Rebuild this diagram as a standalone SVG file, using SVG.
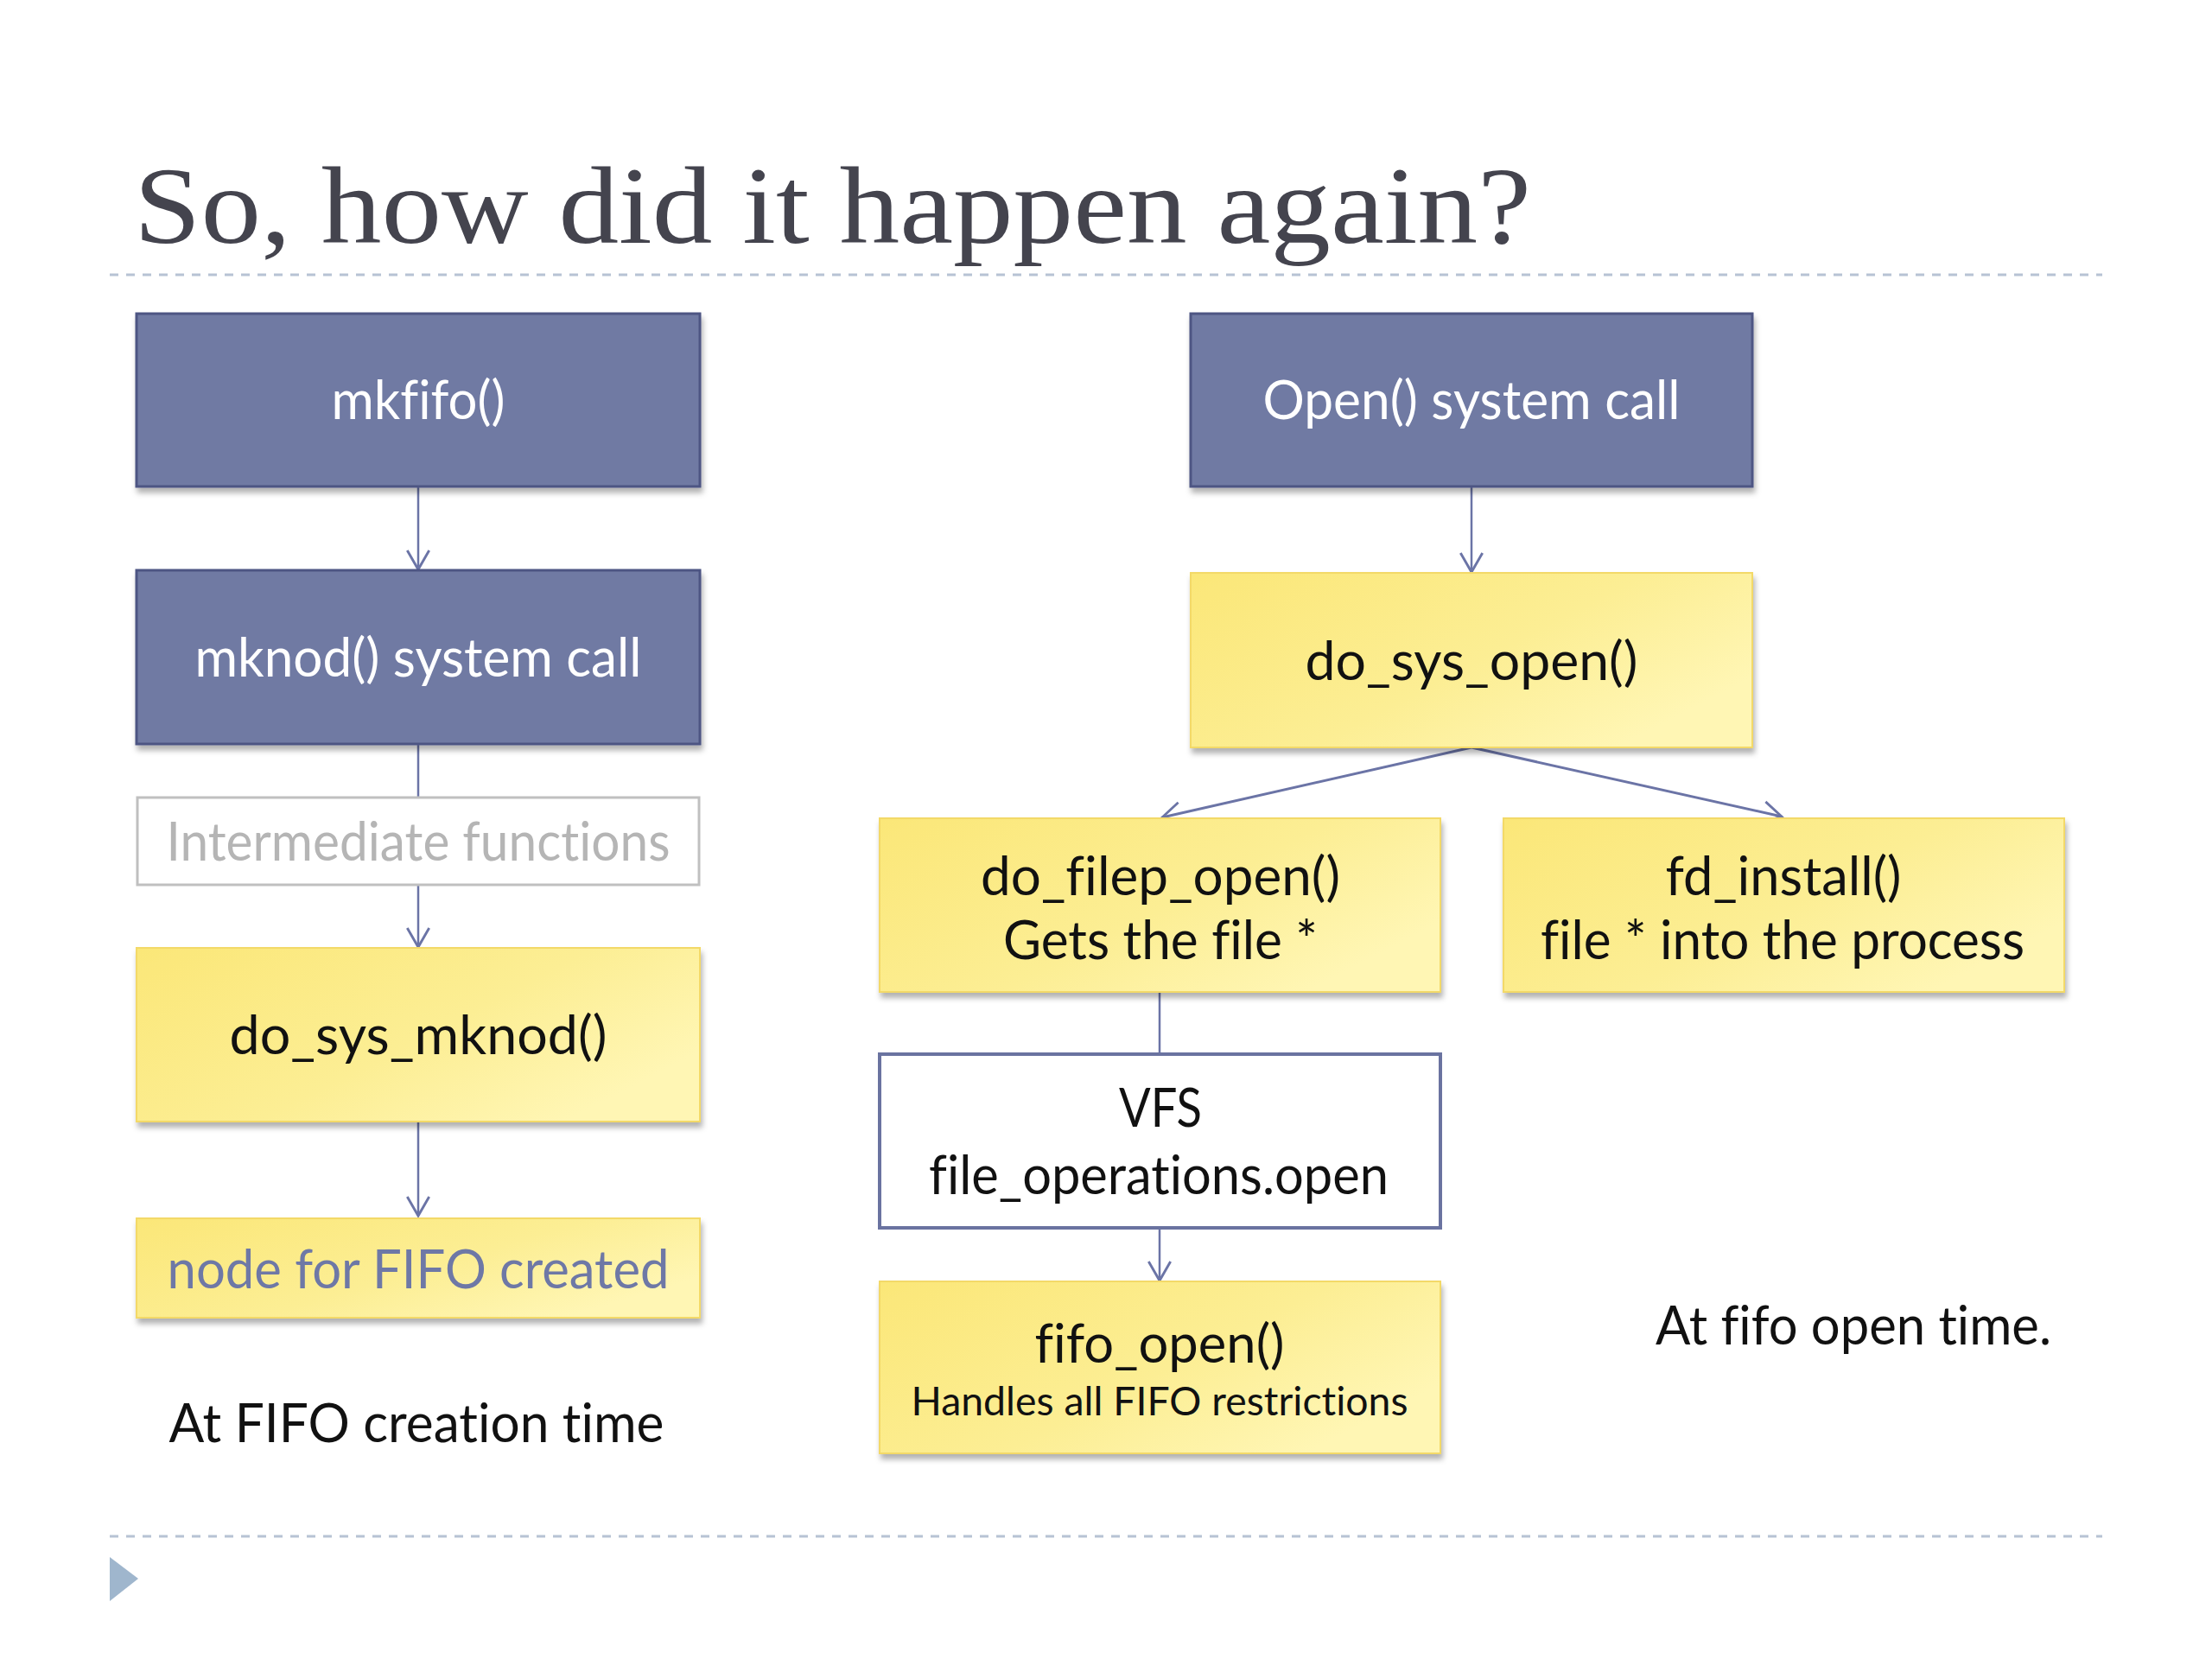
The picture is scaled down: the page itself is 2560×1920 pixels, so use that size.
<svg xmlns="http://www.w3.org/2000/svg" width="2560" height="1920" viewBox="0 0 2560 1920">
<defs>
<linearGradient id="yel" x1="0" y1="0" x2="1" y2="0.6">
<stop offset="0" stop-color="#fbe778"/>
<stop offset="0.6" stop-color="#fcee94"/>
<stop offset="1" stop-color="#fff6b4"/>
</linearGradient>
<filter id="sh" x="-5%" y="-10%" width="112%" height="130%">
<feDropShadow dx="2" dy="6" stdDeviation="3" flood-color="#000" flood-opacity="0.3"/>
</filter>
<marker id="arr" markerUnits="userSpaceOnUse" markerWidth="30" markerHeight="30" viewBox="-22 -12 26 24" refX="0" refY="0" orient="auto">
<path d="M-19,-11 L0,0 L-19,11" fill="none" stroke="#6b74a6" stroke-width="2.5"/>
</marker>
</defs>
<style>
.t{font-family:Lato,"Liberation Sans",sans-serif;font-size:62px;text-anchor:middle;font-variant-ligatures:none}
.w{fill:#ffffff}
.k{fill:#111111}
.blue{fill:#707aa3;stroke:#4d5583;stroke-width:3}
.yb{fill:url(#yel);stroke:#f3d968;stroke-width:2}
.ln{stroke:#6b74a6;stroke-width:2.5;fill:none}
.dash{stroke:#b7c3d4;stroke-width:3;stroke-dasharray:10 9}
</style>
<rect width="2560" height="1920" fill="#ffffff"/>
<text x="155" y="281" font-family="'Liberation Serif',serif" font-size="128" fill="#44444e" textLength="1617" lengthAdjust="spacingAndGlyphs">So, how did it happen again?</text>
<line class="dash" x1="127" y1="318" x2="2433" y2="318"/>
<line class="dash" x1="127" y1="1778" x2="2433" y2="1778"/>
<polygon points="127,1802 160,1827 127,1853" fill="#9fb6cd"/>

<g id="connectors">
<line class="ln" x1="484" y1="563" x2="484" y2="659" marker-end="url(#arr)"/>
<line class="ln" x1="484" y1="861" x2="484" y2="923"/>
<line class="ln" x1="484" y1="1024" x2="484" y2="1096" marker-end="url(#arr)"/>
<line class="ln" x1="484" y1="1298" x2="484" y2="1407" marker-end="url(#arr)"/>
<line class="ln" x1="1703" y1="563" x2="1703" y2="662" marker-end="url(#arr)"/>
<line class="ln" x1="1703" y1="865" x2="1345" y2="946" marker-end="url(#arr)" style="stroke-width:3"/>
<line class="ln" x1="1703" y1="865" x2="2062" y2="945" marker-end="url(#arr)" style="stroke-width:3"/>
<line class="ln" x1="1342" y1="1148" x2="1342" y2="1220"/>
<line class="ln" x1="1342" y1="1421" x2="1342" y2="1482" marker-end="url(#arr)"/>
</g>

<g id="mkfifo">
<rect class="blue" x="158" y="363" width="652" height="200" filter="url(#sh)"/>
<text class="t w" x="484" y="485" textLength="201" lengthAdjust="spacingAndGlyphs">mkfifo()</text>
</g>
<g id="mknod">
<rect class="blue" x="158" y="660" width="652" height="201" filter="url(#sh)"/>
<text class="t w" x="484" y="783" textLength="517" lengthAdjust="spacingAndGlyphs">mknod() system call</text>
</g>
<g id="intermediate">
<rect x="159" y="923" width="650" height="101" fill="#ffffff" stroke="#c0c0c0" stroke-width="3"/>
<text class="t" x="484" y="996" fill="#b5b5b5" textLength="583" lengthAdjust="spacingAndGlyphs">Intermediate functions</text>
</g>
<g id="do_sys_mknod">
<rect class="yb" x="158" y="1097" width="652" height="201" filter="url(#sh)"/>
<text class="t k" x="484" y="1220" textLength="437" lengthAdjust="spacingAndGlyphs">do_sys_mknod()</text>
</g>
<g id="node_created">
<rect class="yb" x="158" y="1410" width="652" height="115" filter="url(#sh)"/>
<text class="t" x="484" y="1491" fill="#6e78a6" textLength="581" lengthAdjust="spacingAndGlyphs">node for FIFO created</text>
</g>
<g id="creation_label">
<text class="t k" x="482" y="1669" textLength="573" lengthAdjust="spacingAndGlyphs">At FIFO creation time</text>
</g>

<g id="open_call">
<rect class="blue" x="1378" y="363" width="650" height="200" filter="url(#sh)"/>
<text class="t w" x="1703" y="485" textLength="483" lengthAdjust="spacingAndGlyphs">Open() system call</text>
</g>
<g id="do_sys_open">
<rect class="yb" x="1378" y="663" width="650" height="202" filter="url(#sh)"/>
<text class="t k" x="1703" y="787" textLength="385" lengthAdjust="spacingAndGlyphs">do_sys_open()</text>
</g>
<g id="do_filep_open">
<rect class="yb" x="1018" y="947" width="649" height="201" filter="url(#sh)"/>
<text class="t k" x="1343" y="1036" textLength="416" lengthAdjust="spacingAndGlyphs">do_filep_open()</text>
<text class="t k" x="1343" y="1110" textLength="364" lengthAdjust="spacingAndGlyphs">Gets the file *</text>
</g>
<g id="fd_install">
<rect class="yb" x="1740" y="947" width="649" height="201" filter="url(#sh)"/>
<text class="t k" x="2064" y="1036" textLength="273" lengthAdjust="spacingAndGlyphs">fd_install()</text>
<text class="t k" x="2063" y="1110" textLength="560" lengthAdjust="spacingAndGlyphs">file * into the process</text>
</g>
<g id="vfs">
<rect x="1018" y="1220" width="649" height="201" fill="#ffffff" stroke="#6a73a0" stroke-width="4"/>
<text class="t k" x="1343" y="1304" textLength="96" lengthAdjust="spacingAndGlyphs">VFS</text>
<text class="t k" x="1341" y="1382" textLength="532" lengthAdjust="spacingAndGlyphs">file_operations.open</text>
</g>
<g id="fifo_open">
<rect class="yb" x="1018" y="1483" width="649" height="199" filter="url(#sh)"/>
<text class="t k" x="1342" y="1577" textLength="289" lengthAdjust="spacingAndGlyphs">fifo_open()</text>
<text class="t k" x="1342" y="1638" style="font-size:46px" textLength="575" lengthAdjust="spacingAndGlyphs">Handles all FIFO restrictions</text>
</g>
<g id="open_label">
<text class="t k" x="2145" y="1556" textLength="458" lengthAdjust="spacingAndGlyphs">At fifo open time.</text>
</g>
</svg>
